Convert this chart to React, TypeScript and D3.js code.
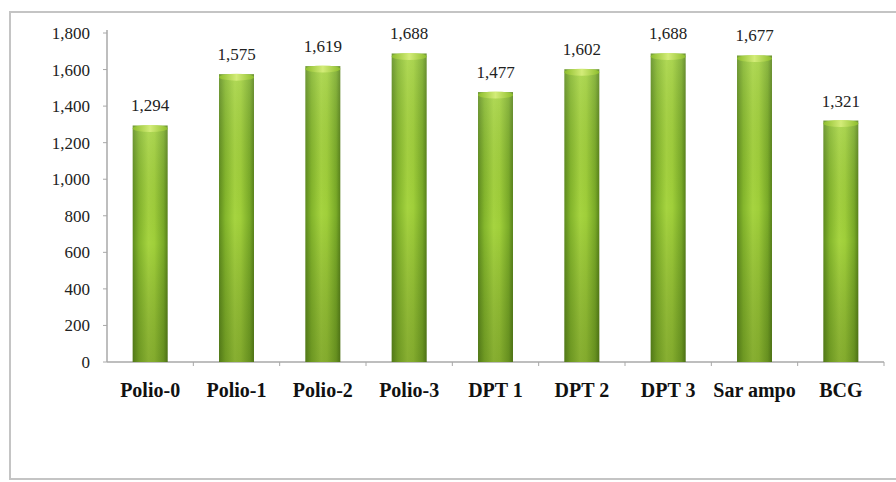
import React from "react";
import * as d3 from "d3";

const categories = ["Polio-0", "Polio-1", "Polio-2", "Polio-3", "DPT 1", "DPT 2", "DPT 3", "Sar ampo", "BCG"];
const values = [1294, 1575, 1619, 1688, 1477, 1602, 1688, 1677, 1321];
const yTicks = [0, 200, 400, 600, 800, 1000, 1200, 1400, 1600, 1800];

const W = 896;
const H = 482;
const left = 107;
const right = 884;
const top = 33;
const bottom = 362;
const serif = "Liberation Serif, Times New Roman, DejaVu Serif, serif";

export default function App() {
  const x = d3.scaleBand<string>().domain(categories).range([left, right]).paddingInner(0.595).paddingOuter(0.2975);
  const y = d3.scaleLinear().domain([0, 1800]).range([bottom, top]);
  const fmt = d3.format(",");
  const bw = x.bandwidth();
  const step = x.step();
  return (
    <svg width={W} height={H} style={{ position: "absolute", left: 0, top: 0, background: "#fff" }}>
      <defs>
        <linearGradient id="hg" x1="0" x2="1" y1="0" y2="0">
          <stop offset="0" stopColor="#5e8c1e" />
          <stop offset="0.18" stopColor="#84b62c" />
          <stop offset="0.45" stopColor="#a6d440" />
          <stop offset="0.62" stopColor="#a0cf3a" />
          <stop offset="0.88" stopColor="#7aab28" />
          <stop offset="1" stopColor="#58821a" />
        </linearGradient>
        <linearGradient id="vg" x1="0" x2="0" y1="0" y2="1">
          <stop offset="0" stopColor="#ffffff" stopOpacity="0.12" />
          <stop offset="0.5" stopColor="#000000" stopOpacity="0" />
          <stop offset="1" stopColor="#2a3d05" stopOpacity="0.25" />
        </linearGradient>
        <linearGradient id="cap" x1="0" x2="1" y1="0" y2="0">
          <stop offset="0" stopColor="#8dbd2c" />
          <stop offset="0.5" stopColor="#d3ec78" />
          <stop offset="1" stopColor="#8dbd2c" />
        </linearGradient>
      </defs>
      <rect x={10} y={12} width={900} height={467} fill="none" stroke="#c4c4c4" strokeWidth={2} />
      {/* y axis */}
      <line x1={left} x2={left} y1={top - 3} y2={bottom} stroke="#a8a8a8" strokeWidth={1.5} />
      {yTicks.map((t) => (
        <g key={t}>
          <line x1={left - 4} x2={left} y1={y(t)} y2={y(t)} stroke="#a8a8a8" />
          <text x={90} y={y(t)} dy="0.35em" textAnchor="end" style={{ fontFamily: serif, fontSize: 17 }} fill="#222">
            {fmt(t)}
          </text>
        </g>
      ))}
      {/* x axis */}
      <line x1={left} x2={right} y1={bottom} y2={bottom} stroke="#a8a8a8" strokeWidth={1.5} />
      {categories.map((c, i) => (
        <line key={"t" + i} x1={left + step * (i + 1)} x2={left + step * (i + 1)} y1={bottom} y2={bottom + 4} stroke="#a8a8a8" />
      ))}
      {categories.map((c, i) => {
        const x0 = x(c) as number;
        const yv = y(values[i]);
        return (
          <g key={c}>
            <rect x={x0} y={yv} width={bw} height={bottom - yv} fill="url(#hg)" />
            <rect x={x0} y={yv} width={bw} height={bottom - yv} fill="url(#vg)" />
            <ellipse cx={x0 + bw / 2} cy={yv + 3} rx={bw / 2} ry={3.5} fill="url(#cap)" />
            <text x={x0 + bw / 2} y={yv - 14} textAnchor="middle" style={{ fontFamily: serif, fontSize: 17 }} fill="#222">
              {fmt(values[i])}
            </text>
            <text x={x0 + bw / 2} y={397} textAnchor="middle" style={{ fontFamily: serif, fontSize: 20, fontWeight: "bold" }} fill="#111">
              {c}
            </text>
          </g>
        );
      })}
    </svg>
  );
}
